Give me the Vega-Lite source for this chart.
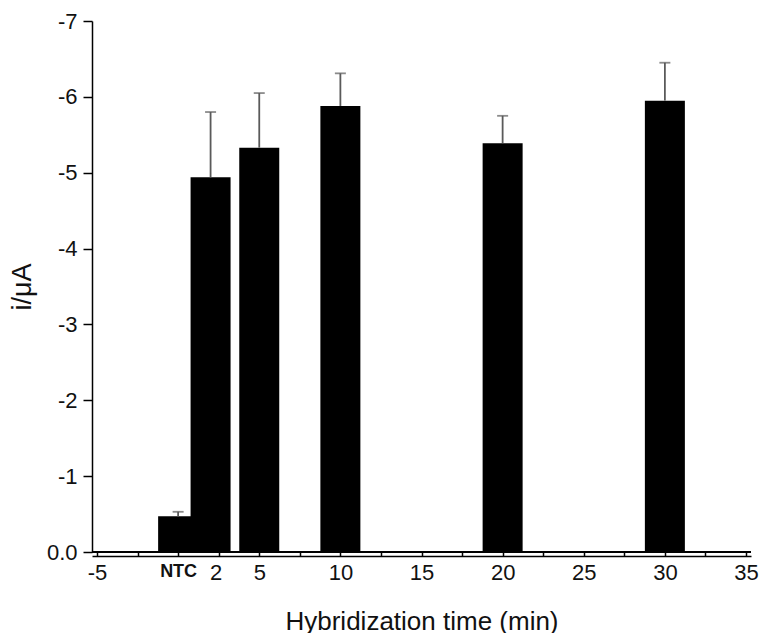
{
  "$schema": "https://vega.github.io/schema/vega-lite/v6.json",
  "width": 659,
  "height": 531,
  "autosize": {"type": "none"},
  "padding": {"left": 92, "top": 21, "right": 16, "bottom": 81},
  "background": "white",
  "config": {
    "view": {"stroke": null},
    "font": "Liberation Sans",
    "axis": {
      "domainColor": "black",
      "domainWidth": 1.5,
      "tickColor": "black",
      "tickWidth": 1.5,
      "labelColor": "#111",
      "titleColor": "#111",
      "grid": false,
      "labelFont": "Liberation Sans",
      "titleFont": "Liberation Sans",
      "titleFontWeight": "normal"
    }
  },
  "data": {
    "values": [
      {"time": 0, "current": -0.47, "upper": -0.53},
      {"time": 2, "current": -4.94, "upper": -5.80},
      {"time": 5, "current": -5.33, "upper": -6.05},
      {"time": 10, "current": -5.88, "upper": -6.31},
      {"time": 20, "current": -5.39, "upper": -5.75},
      {"time": 30, "current": -5.95, "upper": -6.45}
    ]
  },
  "layer": [
    {
      "mark": {"type": "bar", "color": "black", "width": 40},
      "encoding": {
        "x": {
          "field": "time",
          "type": "quantitative",
          "scale": {"domain": [-5, 35], "nice": false, "zero": false},
          "axis": {
            "title": "Hybridization time (min)",
            "titleFontSize": 26,
            "titlePadding": 25,
            "offset": 4,
            "values": [-5, -2.5, 0, 2.5, 5, 7.5, 10, 12.5, 15, 17.5, 20, 22.5, 25, 27.5, 30, 32.5, 35],
            "tickSize": -4,
            "labelExpr": "datum.value == 0 ? 'NTC' : datum.value == 2.5 ? '2' : (datum.value % 5 == 0 ? '' + datum.value : '')",
            "labelFontSize": {"condition": {"test": "datum.value == 0", "value": 18}, "value": 22},
            "labelFontWeight": {"condition": {"test": "datum.value == 0", "value": "bold"}, "value": "normal"},
            "labelOffset": {"condition": {"test": "datum.value == 2.5", "value": -3}, "value": 0},
            "labelPadding": 10,
            "labelFlush": false,
            "labelOverlap": false
          }
        },
        "y": {
          "field": "current",
          "type": "quantitative",
          "scale": {"domain": [0, -7], "nice": false, "zero": false},
          "axis": {
            "title": "i/μA",
            "titleFontSize": 27,
            "titlePadding": 10,
            "values": [0, -0.5, -1, -1.5, -2, -2.5, -3, -3.5, -4, -4.5, -5, -5.5, -6, -6.5, -7],
            "tickSize": {"condition": {"test": "datum.value % 1 == 0", "value": 9}, "value": 4},
            "labelExpr": "datum.value % 1 == 0 ? (datum.value == 0 ? '0.0' : '' + datum.value) : ''",
            "labelFontSize": 22,
            "labelPadding": 6,
            "labelFlush": false,
            "labelOverlap": false
          }
        }
      }
    },
    {
      "mark": {"type": "rule", "color": "black", "strokeWidth": 1.5},
      "encoding": {"y": {"datum": 0, "type": "quantitative"}}
    },
    {
      "mark": {"type": "rule", "color": "#5a5a5a", "strokeWidth": 1.8},
      "encoding": {
        "x": {"field": "time", "type": "quantitative"},
        "y": {"field": "current", "type": "quantitative"},
        "y2": {"field": "upper"}
      }
    },
    {
      "mark": {"type": "tick", "orient": "horizontal", "color": "#5a5a5a", "size": 11, "thickness": 1.8},
      "encoding": {
        "x": {"field": "time", "type": "quantitative"},
        "y": {"field": "upper", "type": "quantitative"}
      }
    }
  ]
}
